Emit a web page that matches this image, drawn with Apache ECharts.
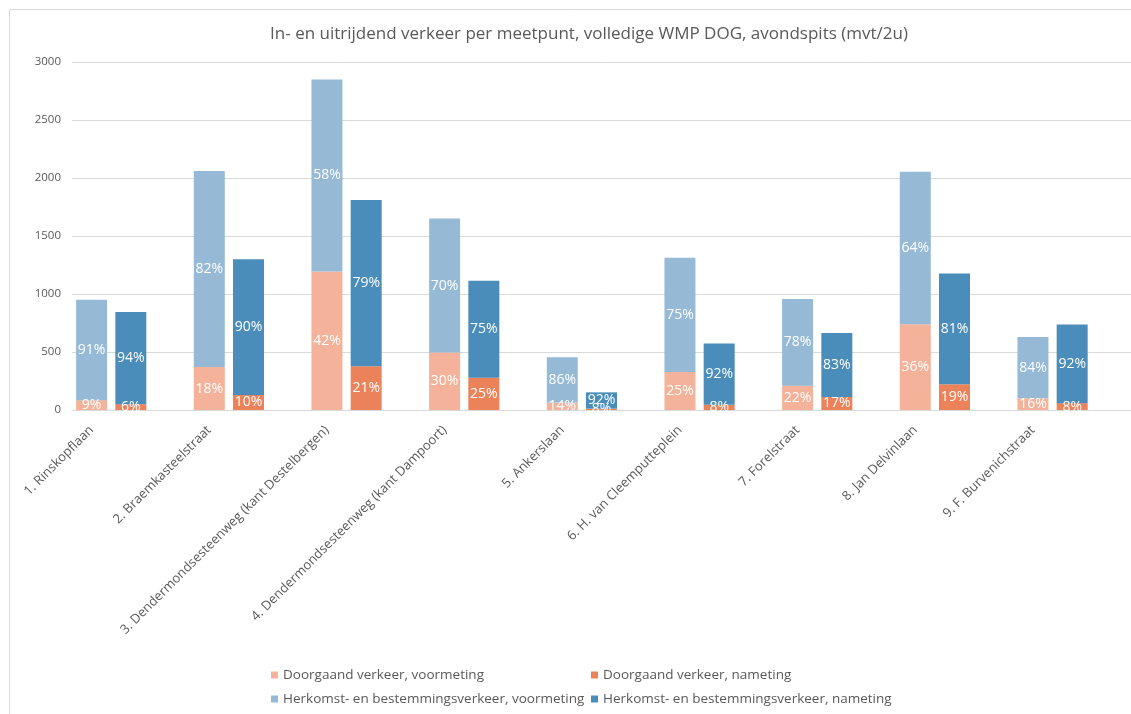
<!DOCTYPE html>
<html>
<head>
<meta charset="utf-8">
<script src="https://cdn.jsdelivr.net/npm/echarts@6/dist/echarts.min.js"></script>
<style>
  html, body { margin: 0; padding: 0; background: #fff; }
  #chart { width: 1131px; height: 714px; }
</style>
</head>
<body>
<div id="chart"></div>
<script>
// meetpunten
const sites = [
  '1. Rinskopflaan',
  '2. Braemkasteelstraat',
  '3. Dendermondsesteenweg (kant Destelbergen)',
  '4. Dendermondsesteenweg (kant Dampoort)',
  '5. Ankerslaan',
  '6. H. van Cleemputteplein',
  '7. Forelstraat',
  '8. Jan Delvinlaan',
  '9. F. Burvenichstraat'
]
// mvt/2u
const doorgaandVoor = [85, 370, 1195, 495, 64, 328, 210, 740, 101]
const herkomstVoor = [865, 1690, 1655, 1155, 390, 984, 746, 1313, 528]
const doorgaandNa = [50, 130, 378, 278, 12, 46, 113, 222, 59]
const herkomstNa = [795, 1170, 1432, 836, 140, 528, 550, 955, 679]
// aandelen (labels)
const pctDoorVoor = ['9%', '18%', '42%', '30%', '14%', '25%', '22%', '36%', '16%']
const pctHerkVoor = ['91%', '82%', '58%', '70%', '86%', '75%', '78%', '64%', '84%']
const pctDoorNa = ['6%', '10%', '21%', '25%', '8%', '8%', '17%', '19%', '8%']
const pctHerkNa = ['94%', '90%', '79%', '75%', '92%', '92%', '83%', '81%', '92%']
const yTicks = [0, 500, 1000, 1500, 2000, 2500, 3000]

const names = {
  dv: 'Doorgaand verkeer, voormeting',
  dn: 'Doorgaand verkeer, nameting',
  hv: 'Herkomst- en bestemmingsverkeer, voormeting',
  hn: 'Herkomst- en bestemmingsverkeer, nameting'
}

// elke meetpunt krijgt 3 plaatsen: voormeting, nameting, lege ruimte
const categories = []
sites.forEach(s => { categories.push(s, '', '') })
function slots (values, offset) {
  const out = []
  values.forEach(v => {
    for (let k = 0; k < 3; k++) out.push(k === offset ? v : '-')
  })
  return out
}

function barSeries (name, values, offset, labels, color) {
  return {
    name: name,
    type: 'bar',
    stack: 'all',
    barWidth: 31,
    data: slots(values, offset),
    itemStyle: { color: color },
    label: {
      show: true,
      position: 'inside',
      color: '#ffffff',
      fontSize: 14,
      fontFamily: 'Open Sans',
      formatter: p => labels[Math.floor(p.dataIndex / 3)]
    }
  }
}

const myChart = echarts.init(document.getElementById('chart'))
myChart.setOption({
  animation: false,
  textStyle: { fontFamily: 'Open Sans' },
  title: {
    text: 'In- en uitrijdend verkeer per meetpunt, volledige WMP DOG, avondspits (mvt/2u)',
    left: 584,
    top: 21,
    textAlign: 'center',
    textStyle: { fontSize: 17, fontWeight: 'normal', color: '#595959', fontFamily: 'Open Sans' }
  },
  graphic: [{
    type: 'rect',
    shape: { x: 9.5, y: 9.5, width: 1300, height: 800 },
    style: { fill: 'none', stroke: '#d9d9d9', lineWidth: 1 },
    silent: true
  }],
  legend: [{
    data: [names.dv, names.hv],
    orient: 'vertical',
    left: 266,
    top: 663,
    itemGap: 10,
    itemWidth: 7,
    itemHeight: 7,
    icon: 'rect',
    textStyle: { fontSize: 13.5, color: '#595959' }
  }, {
    data: [names.dn, names.hn],
    orient: 'vertical',
    left: 586,
    top: 663,
    itemGap: 10,
    itemWidth: 7,
    itemHeight: 7,
    icon: 'rect',
    textStyle: { fontSize: 13.5, color: '#595959' }
  }],
  grid: { left: 72, top: 62, width: 1071, height: 348, containLabel: false },
  xAxis: {
    type: 'category',
    data: categories,
    axisLine: { lineStyle: { color: '#d9d9d9' } },
    axisTick: { show: false },
    axisLabel: { interval: 0, rotate: 45, margin: 18, fontSize: 13, color: '#595959' }
  },
  yAxis: {
    type: 'value',
    min: yTicks[0],
    max: yTicks[yTicks.length - 1],
    interval: 500,
    axisLine: { show: false },
    axisTick: { show: false },
    axisLabel: { margin: 11, fontSize: 11.5, color: '#595959', formatter: v => String(v) },
    splitLine: { lineStyle: { color: '#d9d9d9' } }
  },
  series: [
    barSeries(names.dv, doorgaandVoor, 0, pctDoorVoor, '#F4B29B'),
    barSeries(names.dn, doorgaandNa, 1, pctDoorNa, '#EC8259'),
    barSeries(names.hv, herkomstVoor, 0, pctHerkVoor, '#96BAD6'),
    barSeries(names.hn, herkomstNa, 1, pctHerkNa, '#4A8DBA')
  ]
})
</script>
</body>
</html>
